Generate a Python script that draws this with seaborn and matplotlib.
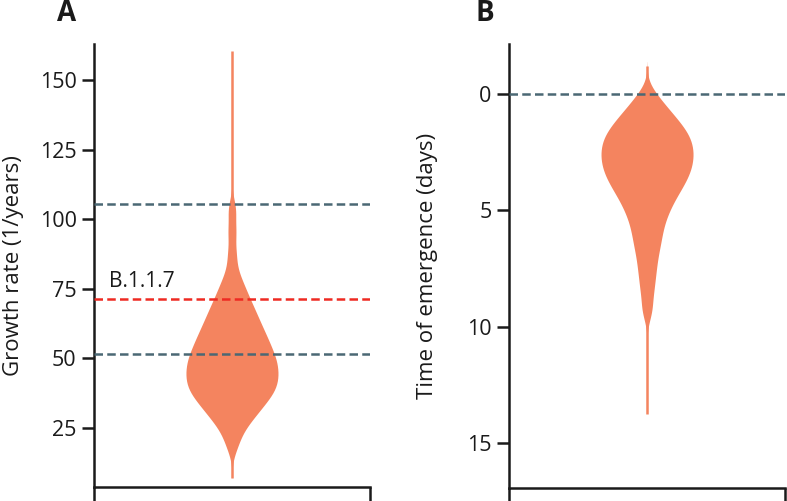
"""Violin plots of growth rate and time of emergence."""
import matplotlib

matplotlib.use("Agg")
import matplotlib.pyplot as plt
import pandas as pd
import seaborn as sns

growth_rate = [18.5, 22.7, 25.5, 27.3, 29.0, 30.1, 31.2, 32.3, 33.4, 34.4, 35.2, 36.0,
               36.8, 37.5, 38.2, 38.9, 39.6, 40.3, 40.9, 41.6, 42.3, 42.9, 43.6, 44.3,
               44.9, 45.6, 46.3, 46.9, 47.6, 48.3, 49.0, 49.7, 50.3, 51.0, 51.7, 52.5,
               53.2, 54.0, 54.9, 55.7, 56.5, 57.3, 58.2, 59.0, 60.1, 61.1, 62.1, 63.2,
               64.2, 65.4, 66.8, 68.1, 69.5, 70.9, 73.0, 75.0, 77.2, 81.0, 87.5, 95.5,
               103.5]
emergence_days = [0.03, 0.34, 0.65, 0.81, 0.96, 1.12, 1.27, 1.41, 1.52, 1.62, 1.73, 1.83,
                  1.94, 2.04, 2.14, 2.24, 2.34, 2.43, 2.53, 2.62, 2.72, 2.82, 2.92, 3.02,
                  3.12, 3.22, 3.32, 3.42, 3.52, 3.64, 3.76, 3.88, 4.00, 4.13, 4.25, 4.42,
                  4.59, 4.76, 4.94, 5.15, 5.40, 5.64, 5.94, 6.25, 6.56, 6.95, 7.40, 7.90,
                  8.50, 9.30]

# Full range of the draws (thin tails of the violins)
growth_range = [7.2, 160.5]
emergence_range = [-1.2, 13.77]

# Reference lines
growth_bounds = [51.5, 105.5]
b117_rate = 71.5
emergence_ref = 0

growth_ticks = [25, 50, 75, 100, 125, 150]
emergence_ticks = [0, 5, 10, 15]

VIOLIN = "#f4845f"
SLATE = "#4b6874"
RED = "#ee2a22"
INK = "#1a1a1a"
DASH = (0, (3.4, 1.7))

sns.set_theme(style="white")
plt.rcParams["font.family"] = ["Open Sans", "DejaVu Sans"]
plt.rcParams["axes.edgecolor"] = INK
plt.rcParams["xtick.color"] = INK
plt.rcParams["ytick.color"] = INK
plt.rcParams["text.color"] = INK
plt.rcParams["axes.labelcolor"] = INK

fig = plt.figure(figsize=(7.87, 5.01), dpi=100)
ax_a = fig.add_axes([0.1194, 0.028, 0.3507, 0.884])
ax_b = fig.add_axes([0.6468, 0.026, 0.3507, 0.886])


def _style(ax):
    for side in ["top", "right"]:
        ax.spines[side].set_visible(False)
    for side in ["left", "bottom"]:
        ax.spines[side].set_linewidth(1.8)
    ax.set_xlim(-1.5, 1.5)
    ax.set_xticks([-1.5, 1.5])
    ax.set_xticklabels(["", ""])
    ax.set_xlabel("")
    ax.tick_params(axis="y", length=8.5, width=1.8, labelsize=15.5, pad=4, left=True)
    ax.tick_params(axis="x", length=12, width=1.8, bottom=True)


def _violin(ax, values, value_range, bw):
    df = pd.DataFrame({"grp": 0, "value": values})
    sns.violinplot(data=df, x="grp", y="value", ax=ax, color=VIOLIN, saturation=1,
                   inner=None, cut=3, bw_method=bw, width=1.0, linewidth=0,
                   native_scale=True)
    # thin tails out to the extreme draws
    ax.vlines(0, value_range[0], value_range[1], color=VIOLIN, linewidth=1.8, zorder=1)


_violin(ax_a, growth_rate, growth_range, 0.22)
for y in growth_bounds:
    ax_a.axhline(y, color=SLATE, linestyle=DASH, linewidth=1.8, zorder=5)
ax_a.axhline(b117_rate, color=RED, linestyle=DASH, linewidth=1.8, zorder=5)
ax_a.text(-1.34, b117_rate + 2.5, "B.1.1.7", fontsize=15, ha="left", va="bottom")
ax_a.set_ylim(3.8, 163)
ax_a.set_yticks(growth_ticks)
ax_a.set_ylabel("Growth rate (1/years)", fontsize=16, labelpad=11)
_style(ax_a)

_violin(ax_b, emergence_days, emergence_range, 0.22)
ax_b.axhline(emergence_ref, color=SLATE, linestyle=DASH, linewidth=1.8, zorder=5)
ax_b.set_ylim(16.95, -2.16)
ax_b.set_yticks(emergence_ticks)
ax_b.set_ylabel("Time of emergence (days)", fontsize=16, labelpad=21)
_style(ax_b)

fig.text(0.072, 0.974, "A", fontsize=20, fontweight="bold", ha="left", va="center")
fig.text(0.604, 0.974, "B", fontsize=20, fontweight="bold", ha="left", va="center")

fig.savefig("out.png", dpi=100)
